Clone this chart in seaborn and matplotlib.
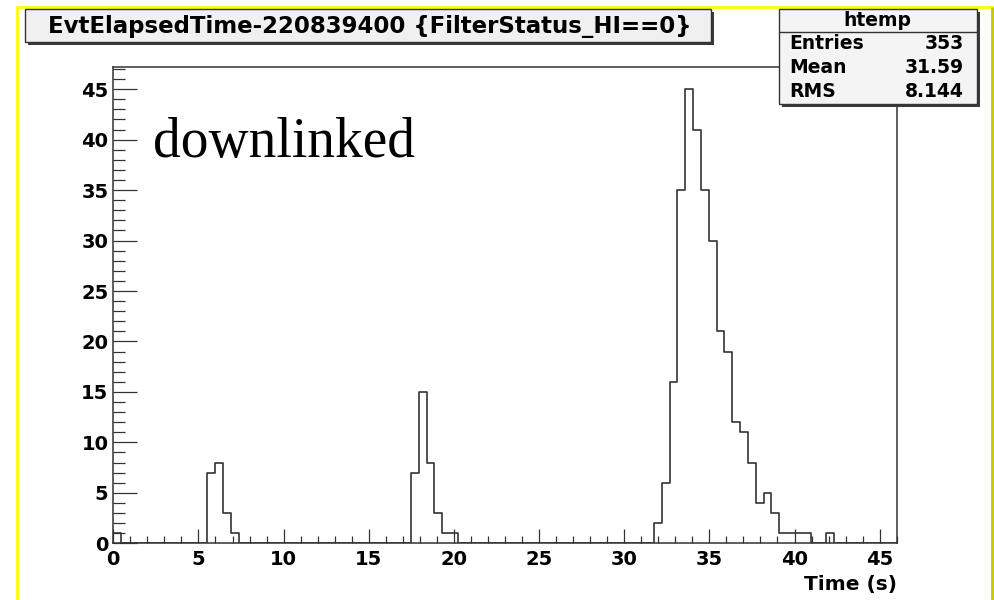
import numpy as np
import pandas as pd
import matplotlib
matplotlib.use("Agg")
import matplotlib.pyplot as plt
from matplotlib.patches import Rectangle
from matplotlib.lines import Line2D
from matplotlib.ticker import MultipleLocator
import seaborn as sns

# Histogram binning (htemp: 100 equal bins over the drawn range)
n_bins = 100
x_low, x_high = 0.0, 46.0

# Non-empty bins (bin index) and their entry counts
filled_bins = [0,
               12, 13, 14, 15,
               38, 39, 40, 41, 42, 43,
               69, 70, 71, 72, 73, 74, 75, 76, 77, 78,
               79, 80, 81, 82, 83, 84, 85, 86, 87, 88,
               91]
bin_counts = [1,
              7, 8, 3, 1,
              7, 15, 8, 3, 1, 1,
              2, 6, 16, 35, 45, 41, 35, 30, 21, 19,
              12, 11, 8, 4, 5, 3, 1, 1, 1, 1,
              1]

# Statistics box contents
hist_name = "htemp"
stat_mean = "31.59"
stat_rms = "8.144"

title_text = "EvtElapsedTime-220839400 {FilterStatus_HI==0}"
x_label = "Time (s)"
note_text = "downlinked"

x_major, x_minor = 5, 1
y_major, y_minor = 5, 1

# ---------------------------------------------------------------------------
edges = np.linspace(x_low, x_high, n_bins + 1)
centers = 0.5 * (edges[:-1] + edges[1:])
entries = np.zeros(n_bins)
entries[filled_bins] = bin_counts
df = pd.DataFrame({"time": centers, "entries": entries})
n_entries = int(df["entries"].sum())

sns.set_style("white")
plt.rcParams["font.family"] = ["DejaVu Sans"]
plt.rcParams["font.weight"] = "bold"

W, H = 994, 600
fig = plt.figure(figsize=(W / 100, H / 100), dpi=100)
fig.patch.set_facecolor("white")


def fx(px):
    return px / W


def fy(py):
    return 1 - py / H


ax_l, ax_r, ax_t, ax_b = 113.3, 896.7, 66.5, 543.3
ax = fig.add_axes([fx(ax_l), fy(ax_b), fx(ax_r - ax_l), (ax_b - ax_t) / H])
ax.set_facecolor("white")

ink = "#333333"
sns.histplot(data=df, x="time", weights="entries", bins=n_bins,
             binrange=(x_low, x_high), element="step", fill=False,
             color=ink, linewidth=1.2, ax=ax)

ax.set_xlim(x_low, x_high)
ax.set_ylim(0, max(bin_counts) * 1.05)
ax.set_ylabel("")
ax.set_xlabel(x_label, loc="right", fontsize=14.5, fontweight="bold",
              labelpad=4, color="black")

ax.xaxis.set_major_locator(MultipleLocator(x_major))
ax.xaxis.set_minor_locator(MultipleLocator(x_minor))
ax.yaxis.set_major_locator(MultipleLocator(y_major))
ax.yaxis.set_minor_locator(MultipleLocator(y_minor))

ax.tick_params(axis="x", which="major", direction="in", length=10, width=0.9,
               color=ink, labelcolor="black", pad=5, labelsize=14,
               top=False, bottom=True)
ax.tick_params(axis="x", which="minor", direction="in", length=5, width=0.9,
               color=ink, top=False, bottom=True)
ax.tick_params(axis="y", which="major", direction="in", length=17, width=0.9,
               color=ink, labelcolor="black", pad=3.5, labelsize=14,
               left=True, right=False)
ax.tick_params(axis="y", which="minor", direction="in", length=8.5, width=0.9,
               color=ink, left=True, right=False)
for lbl in ax.get_xticklabels() + ax.get_yticklabels():
    lbl.set_fontweight("bold")

for sp in ax.spines.values():
    sp.set_visible(True)
    sp.set_color(ink)
    sp.set_linewidth(1.1)

# Canvas frame
frame_kw = dict(transform=fig.transFigure, linewidth=2.0, solid_capstyle="butt")
fig.add_artist(Line2D([fx(17), fx(17)], [fy(6.5), 0], color="#ffff00", **frame_kw))
fig.add_artist(Line2D([fx(16), 1], [fy(6.5), fy(6.5)], color="#ffff00", **frame_kw))
fig.add_artist(Line2D([fx(991.5), fx(991.5)], [fy(6.5), 0], color="#c8c800", **frame_kw))


def pave(x0, y0, x1, y1, face):
    shadow = Rectangle((fx(x0 + 3), fy(y1 + 3)), fx(x1 - x0), (y1 - y0) / H,
                       transform=fig.transFigure, facecolor="#3a3a3a",
                       edgecolor="none", zorder=5)
    box = Rectangle((fx(x0), fy(y1)), fx(x1 - x0), (y1 - y0) / H,
                    transform=fig.transFigure, facecolor=face,
                    edgecolor=ink, linewidth=1.0, zorder=6)
    fig.add_artist(shadow)
    fig.add_artist(box)


# Title pave
pave(25, 9, 711, 42, "#f0f0f0")
fig.text(fx(370), fy(26), title_text, ha="center", va="center",
         fontsize=16.5, fontweight="bold", color="black", zorder=7)

# Statistics pave
sx0, sy0, sx1, sy1 = 779, 9, 976.5, 104
pave(sx0, sy0, sx1, sy1, "#f4f4f4")
fig.add_artist(Line2D([fx(sx0), fx(sx1)], [fy(32.3), fy(32.3)],
                      transform=fig.transFigure, color=ink, linewidth=1.0, zorder=7))
fig.text(fx((sx0 + sx1) / 2), fy(21), hist_name, ha="center", va="center",
         fontsize=13.5, fontweight="bold", color="black", zorder=7)
rows = [("Entries", f"{n_entries}"), ("Mean", stat_mean), ("RMS", stat_rms)]
for i, (name, val) in enumerate(rows):
    yy = fy(43.5 + i * 24)
    fig.text(fx(789), yy, name, ha="left", va="center", fontsize=13.5,
             fontweight="bold", color="black", zorder=7)
    fig.text(fx(963.5), yy, val, ha="right", va="center", fontsize=13.5,
             fontweight="bold", color="black", zorder=7)

# Free annotation on the pad
fig.text(fx(153), fy(157), note_text, ha="left", va="baseline",
         fontsize=40, fontweight="normal", family="Liberation Serif",
         color="black")

fig.savefig("out.png", dpi=100, facecolor="white")
